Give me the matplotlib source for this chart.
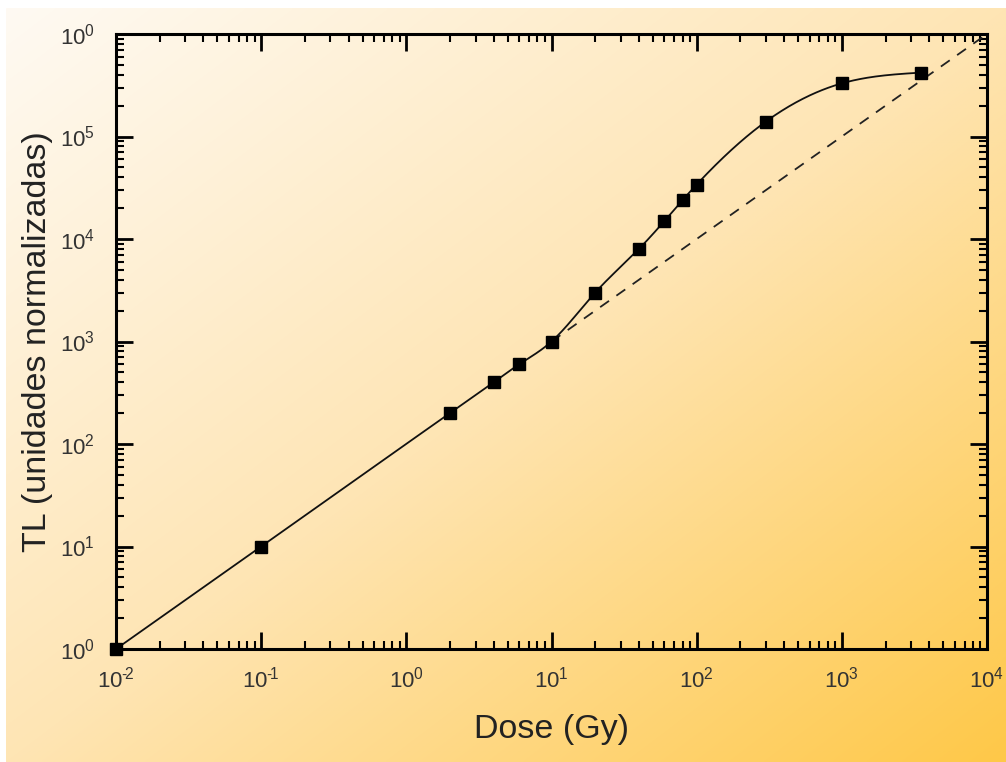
import numpy as np
import matplotlib
matplotlib.use("Agg")
import matplotlib.pyplot as plt
from matplotlib.ticker import LogLocator, FixedLocator, NullFormatter

plt.rcParams["font.family"] = ["Liberation Sans", "DejaVu Sans"]
plt.rcParams["mathtext.fontset"] = "custom"
plt.rcParams["mathtext.rm"] = "Liberation Sans"
plt.rcParams["mathtext.it"] = "Liberation Sans"

# ─── Data ──────────────────────────────────────────────────────────────────────
dose = [0.01, 0.1, 2, 4, 6, 10, 20, 40, 60, 80, 100, 300, 1000, 3500]
tl = [1, 10, 200, 400, 600, 1000, 3000, 8000, 15000, 24000, 34000,
      140000, 330000, 420000]
linear_dose = [10, 10000]
linear_tl = [1000, 1000000]

x_ticks = [1e-2, 1e-1, 1e0, 1e1, 1e2, 1e3, 1e4]
x_tick_labels = ["$10^{\u2010\\!2}$", "$10^{\u2010\\!1}$", r"$10^{0}$", r"$10^{1}$",
                 r"$10^{2}$", r"$10^{3}$", r"$10^{4}$"]
y_ticks = [1e0, 1e1, 1e2, 1e3, 1e4, 1e5, 1e6]
y_tick_labels = [r"$10^{0}$", r"$10^{1}$", r"$10^{2}$", r"$10^{3}$",
                 r"$10^{4}$", r"$10^{5}$", r"$10^{0}$"]


def _natural_spline(x, y, xs):
    """Natural cubic spline through the points."""
    x, y = np.asarray(x, float), np.asarray(y, float)
    n = len(x)
    h = np.diff(x)
    A = np.zeros((n, n))
    b = np.zeros(n)
    A[0, 0] = A[-1, -1] = 1
    for i in range(1, n - 1):
        A[i, i - 1] = h[i - 1]
        A[i, i] = 2 * (h[i - 1] + h[i])
        A[i, i + 1] = h[i]
        b[i] = 6 * ((y[i + 1] - y[i]) / h[i] - (y[i] - y[i - 1]) / h[i - 1])
    M = np.linalg.solve(A, b)
    idx = np.clip(np.searchsorted(x, xs) - 1, 0, n - 2)
    x0, x1 = x[idx], x[idx + 1]
    hh = h[idx]
    return (M[idx] * (x1 - xs)**3 / (6 * hh) + M[idx + 1] * (xs - x0)**3 / (6 * hh)
            + (y[idx] / hh - M[idx] * hh / 6) * (x1 - xs)
            + (y[idx + 1] / hh - M[idx + 1] * hh / 6) * (xs - x0))


# ─── Figure ────────────────────────────────────────────────────────────────────
fig = plt.figure(figsize=(10.06, 7.62), dpi=100)
fig.patch.set_facecolor("white")

# gradient background (white top-left -> orange bottom-right)
bg = fig.add_axes([6 / 1006, 0, 1 - 6 / 1006, 1 - 8 / 762], zorder=-1)
gx, gy = np.meshgrid(np.linspace(0, 1, 400), np.linspace(0, 1, 300))
t = (gx + gy) / 2
stops = np.array([0.0, 0.5, 1.0])
cols = np.array([[255, 250, 243], [254, 229, 180], [254, 200, 72]]) / 255
img = np.stack([np.interp(t, stops, cols[:, c]) for c in range(3)], axis=-1)
bg.imshow(img, aspect="auto", extent=[0, 1, 1, 0], interpolation="bilinear")
bg.axis("off")

ax = fig.add_axes([116 / 1006, 1 - 649 / 762, (987 - 116) / 1006, (649 - 34) / 762])
ax.patch.set_alpha(0)
ax.set_xscale("log")
ax.set_yscale("log")
ax.set_xlim(1e-2, 1e4)
ax.set_ylim(1e0, 1e6)

# smooth curve through measured points, in log-log space
lx = np.log10(dose)
ly = np.log10(tl)
xs = np.linspace(lx[0], lx[-1], 800)
ax.plot(10**xs, 10**_natural_spline(lx, ly, xs), color="#111111", lw=1.3, zorder=2)
ax.plot(linear_dose, linear_tl, color="#222222", lw=1.3,
        dashes=(6, 5), zorder=2)
ax.plot(dose, tl, ls="none", marker="s", ms=8.6, color="black",
        clip_on=False, zorder=3)

# ticks
ax.xaxis.set_major_locator(FixedLocator(x_ticks))
ax.yaxis.set_major_locator(FixedLocator(y_ticks))
ax.set_xticklabels(x_tick_labels)
ax.set_yticklabels(y_tick_labels)
ax.xaxis.set_minor_locator(LogLocator(base=10, subs=np.arange(2, 10), numticks=20))
ax.yaxis.set_minor_locator(LogLocator(base=10, subs=np.arange(2, 10), numticks=20))
ax.xaxis.set_minor_formatter(NullFormatter())
ax.yaxis.set_minor_formatter(NullFormatter())
ax.tick_params(which="both", direction="in", top=True, right=True,
               labelsize=16, colors="black", labelcolor="#333333")
ax.tick_params(which="major", length=12, width=2)
ax.tick_params(which="minor", length=6, width=1.5)
ax.tick_params(axis="x", which="major", pad=13)
ax.tick_params(axis="y", which="major", pad=15)

for s in ax.spines.values():
    s.set_linewidth(2.2)

ax.set_xlabel("Dose (Gy)", fontsize=24.5, color="#222222", labelpad=15)
ax.set_ylabel("TL (unidades normalizadas)", fontsize=24.5, color="#222222",
              labelpad=5)

fig.savefig("out.png", dpi=100)
